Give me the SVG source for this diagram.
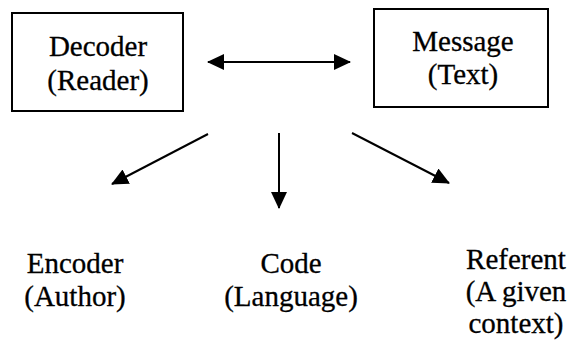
<svg xmlns="http://www.w3.org/2000/svg" width="568" height="344" viewBox="0 0 568 344">
<style>
.box{fill:#fff;stroke:#000;stroke-width:2}
.t{font-family:"Liberation Serif","Times New Roman",serif;font-size:29px;fill:#000;text-anchor:middle;stroke:#000;stroke-width:0.3}
.c{stroke:#000;stroke-width:2;fill:none}
</style>
<defs>
<marker id="ah" viewBox="0 0 17 16" refX="16" refY="8" markerWidth="17" markerHeight="16" markerUnits="userSpaceOnUse" orient="auto-start-reverse">
<path d="M0,0 L17,8 L0,16 Z" fill="#000"/>
</marker>
</defs>
<rect width="568" height="344" fill="#fff"/>
<g id="connectors">
<line class="c" x1="208" y1="62" x2="350" y2="62" marker-start="url(#ah)" marker-end="url(#ah)"/>
<line class="c" x1="208" y1="134" x2="112" y2="184" marker-end="url(#ah)"/>
<line class="c" x1="279" y1="133" x2="279" y2="208" marker-end="url(#ah)"/>
<line class="c" x1="352" y1="133" x2="449" y2="183" marker-end="url(#ah)"/>
</g>
<g id="decoder">
<rect class="box" x="12" y="13" width="171" height="98"/>
<text class="t" x="98" y="56">Decoder</text>
<text class="t" x="98" y="90">(Reader)</text>
</g>
<g id="message">
<rect class="box" x="374" y="9" width="174" height="98"/>
<text class="t" x="463" y="51">Message</text>
<text class="t" x="463" y="84">(Text)</text>
</g>
<g id="encoder">
<text class="t" x="75" y="273">Encoder</text>
<text class="t" x="75" y="306">(Author)</text>
</g>
<g id="code">
<text class="t" x="291" y="273">Code</text>
<text class="t" x="291" y="306">(Language)</text>
</g>
<g id="referent">
<text class="t" x="516" y="269">Referent</text>
<text class="t" x="516" y="301">(A given</text>
<text class="t" x="516" y="333">context)</text>
</g>
</svg>
